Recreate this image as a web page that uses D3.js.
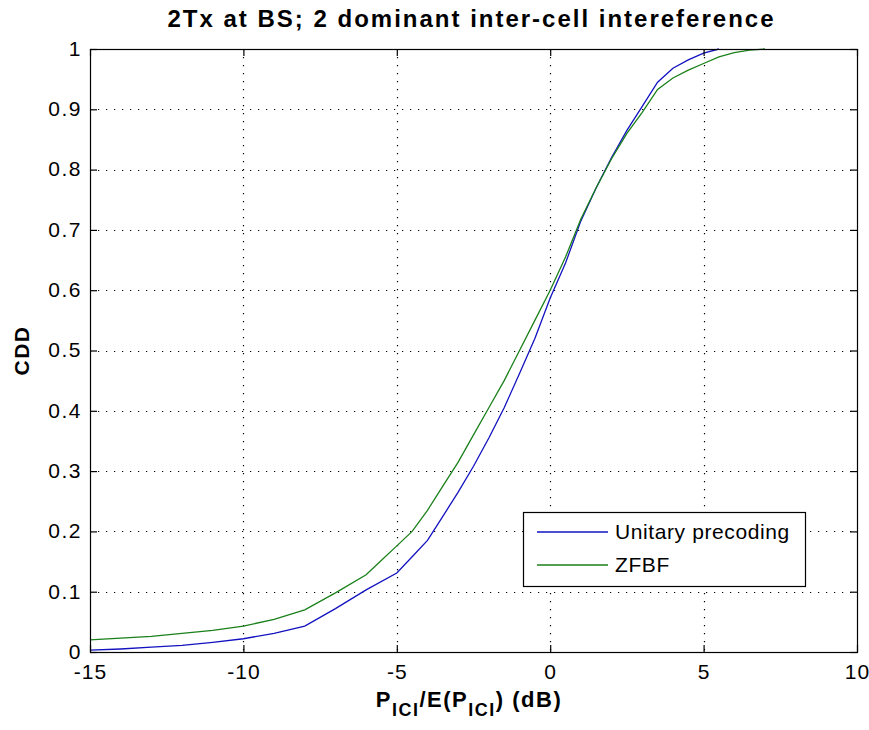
<!DOCTYPE html>
<html>
<head>
<meta charset="utf-8">
<script src="https://cdn.jsdelivr.net/npm/d3@7"></script>
<style>
  html, body { margin: 0; padding: 0; background: #fff; }
  svg { display: block; }
  text { font-family: "Liberation Sans", Arial, sans-serif; }
</style>
</head>
<body>
<svg id="chart" width="869" height="730"></svg>
<script>
// ---- data ----
const unitaryX = [-15, -14, -13, -12, -11, -10, -9, -8, -7, -6, -5, -4.5, -4, -3.5, -3, -2.5, -2, -1.5, -1, -0.5, 0, 0.5, 1, 1.5, 2, 2.5, 3, 3.5, 4, 4.5, 5, 5.5];
const unitaryY = [0.003, 0.005, 0.008, 0.011, 0.016, 0.022, 0.031, 0.043, 0.072, 0.103, 0.131, 0.158, 0.185, 0.225, 0.265, 0.308, 0.355, 0.405, 0.462, 0.52, 0.587, 0.645, 0.715, 0.77, 0.82, 0.865, 0.905, 0.945, 0.968, 0.982, 0.993, 1.0];
const zfbfX = [-15, -14, -13, -12, -11, -10, -9, -8, -7, -6, -5.5, -5, -4.5, -4, -3.5, -3, -2.5, -2, -1.5, -1, -0.5, 0, 0.5, 1, 1.5, 2, 2.5, 3, 3.5, 4, 4.5, 5, 5.5, 6, 6.5, 7];
const zfbfY = [0.02, 0.023, 0.026, 0.031, 0.036, 0.043, 0.054, 0.07, 0.098, 0.128, 0.152, 0.176, 0.2, 0.235, 0.275, 0.315, 0.36, 0.405, 0.45, 0.5, 0.55, 0.6, 0.655, 0.718, 0.77, 0.818, 0.86, 0.895, 0.933, 0.952, 0.965, 0.976, 0.987, 0.994, 0.998, 1.0];
const xTicks = [-15, -10, -5, 0, 5, 10];
const yTicks = [0, 0.1, 0.2, 0.3, 0.4, 0.5, 0.6, 0.7, 0.8, 0.9, 1];
const seriesNames = ["Unitary precoding", "ZFBF"];
const titleText = "2Tx at BS; 2 dominant inter-cell intereference";
const yLabelText = "CDD";

// ---- layout ----
const L = 90, R = 857, T = 49, B = 652;
const colors = ["#1212c0", "#1a801a"];
const svg = d3.select("#chart");

const x = d3.scaleLinear().domain([-15, 10]).range([L, R]);
const y = d3.scaleLinear().domain([0, 1]).range([B, T]);

// grid
const grid = svg.append("g").attr("stroke", "#000").attr("stroke-width", 1.2)
  .attr("stroke-dasharray", "1.2,6.8");
grid.selectAll("line.gx").data(xTicks.slice(1, -1)).join("line")
  .attr("x1", d => Math.round(x(d)) + 0.5).attr("x2", d => Math.round(x(d)) + 0.5)
  .attr("y1", T).attr("y2", B);
grid.selectAll("line.gy").data(yTicks.slice(1, -1)).join("line")
  .attr("y1", d => Math.round(y(d)) + 0.5).attr("y2", d => Math.round(y(d)) + 0.5)
  .attr("x1", L).attr("x2", R);

// lines
const line = d3.line().x(d => x(d[0])).y(d => y(d[1]));
const series = [
  d3.zip(unitaryX, unitaryY),
  d3.zip(zfbfX, zfbfY)
];
series.forEach((s, i) => {
  svg.append("path").datum(s).attr("d", line)
    .attr("fill", "none").attr("stroke", colors[i]).attr("stroke-width", 1.3);
});

// axes
const fmtY = d => d === 0 ? "0" : d === 1 ? "1" : d3.format(".1f")(d);
const fmtX = d => String(d);
const axB = svg.append("g").attr("transform", `translate(0,${B})`)
  .call(d3.axisBottom(x).tickValues(xTicks).tickSize(-7).tickPadding(12).tickFormat(fmtX));
const axT = svg.append("g").attr("transform", `translate(0,${T})`)
  .call(d3.axisTop(x).tickValues(xTicks).tickSize(-7).tickFormat(""));
const axL = svg.append("g").attr("transform", `translate(${L},0)`)
  .call(d3.axisLeft(y).tickValues(yTicks).tickSize(-7).tickPadding(8).tickFormat(fmtY));
const axR = svg.append("g").attr("transform", `translate(${R},0)`)
  .call(d3.axisRight(y).tickValues(yTicks).tickSize(-7).tickFormat(""));
[axB, axT, axL, axR].forEach(a => {
  a.select(".domain").remove();
  a.selectAll(".tick line").attr("stroke", "#000").attr("stroke-width", 1.2);
  a.selectAll("text").attr("font-size", 21).attr("fill", "#000")
    .attr("letter-spacing", 1.5)
    .attr("font-family", "'Liberation Sans', Arial, sans-serif");
});
axL.selectAll("text").attr("dy", "0.3em");
axB.selectAll("text").attr("letter-spacing", 1);

// box
svg.append("rect").attr("x", L + 0.5).attr("y", T + 0.5)
  .attr("width", R - L).attr("height", B - T)
  .attr("fill", "none").attr("stroke", "#000").attr("stroke-width", 1.2);

// title
svg.append("text").attr("x", (L + R) / 2 - 3).attr("y", 27)
  .attr("text-anchor", "middle").attr("font-size", 24).attr("font-weight", "bold")
  .attr("textLength", 606).attr("lengthAdjust", "spacing")
  .text(titleText);

// x label with subscripts
const xl = svg.append("text").attr("x", 469).attr("y", 707)
  .attr("text-anchor", "middle").attr("font-size", 22).attr("font-weight", "bold")
  .attr("letter-spacing", 1.5);
xl.append("tspan").text("P");
xl.append("tspan").attr("font-size", 18).attr("dy", 9).text("ICI");
xl.append("tspan").attr("dy", -9).text("/E(P");
xl.append("tspan").attr("font-size", 18).attr("dy", 9).text("ICI");
xl.append("tspan").attr("dy", -9).text(") (dB)");

// y label
svg.append("text").attr("transform", `translate(29,${(T + B) / 2}) rotate(-90)`)
  .attr("text-anchor", "middle").attr("font-size", 21).attr("font-weight", "bold")
  .attr("letter-spacing", 1.5)
  .text(yLabelText);

// legend
const lg = svg.append("g");
lg.append("rect").attr("x", 523.5).attr("y", 512.5).attr("width", 282).attr("height", 74)
  .attr("fill", "#fff").attr("stroke", "#000").attr("stroke-width", 1.2);
seriesNames.forEach((n, i) => {
  const yy = 532 + i * 33;
  lg.append("line").attr("x1", 537).attr("x2", 608).attr("y1", yy).attr("y2", yy)
    .attr("stroke", colors[i]).attr("stroke-width", 1.3);
  lg.append("text").attr("x", 615).attr("y", yy).attr("dy", "0.35em")
    .attr("font-size", 21).attr("letter-spacing", 0.6).text(n);
});
</script>
</body>
</html>
